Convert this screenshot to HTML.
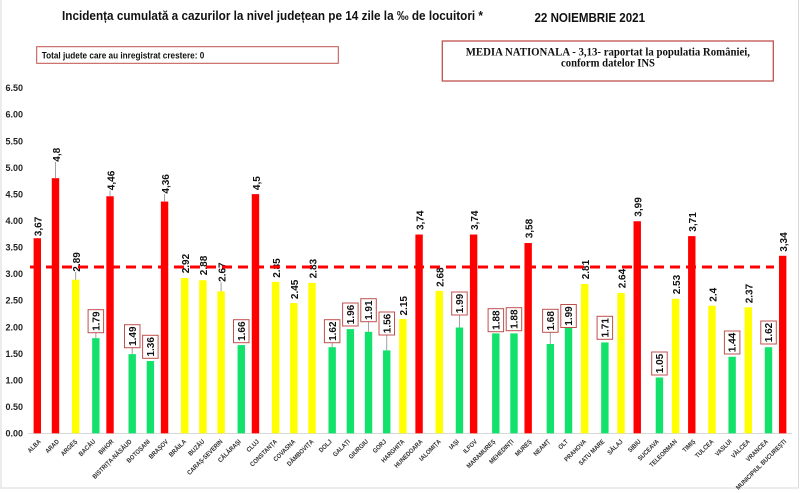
<!DOCTYPE html>
<html><head><meta charset="utf-8"><style>
html,body{margin:0;padding:0;background:#fff;}
svg{display:block;}
.yl{font-family:"Liberation Sans",sans-serif;font-size:9px;font-weight:bold;fill:#222;text-anchor:end;}
.v{font-family:"Liberation Sans",sans-serif;font-size:10px;font-weight:bold;fill:#111;}
.b{font-family:"Liberation Sans",sans-serif;font-size:10px;font-weight:bold;fill:#111;text-anchor:middle;}
.xl{font-family:"Liberation Sans",sans-serif;font-size:6.5px;font-weight:bold;fill:#333;text-anchor:end;}
.bx{fill:#fff;stroke:#c0504d;stroke-width:1;}
.ld{stroke:#a0a0a0;stroke-width:1;}
</style></head><body>
<svg width="800" height="493" viewBox="0 0 800 493" xmlns="http://www.w3.org/2000/svg">
<rect x="0" y="0" width="800" height="493" fill="#fff"/>
<rect x="1" y="-1" width="797.5" height="489" fill="none" stroke="#d9d9d9" stroke-width="1"/>

<text x="62" y="20" font-family="Liberation Sans, sans-serif" font-size="13" font-weight="bold" fill="#111" textLength="421" lengthAdjust="spacingAndGlyphs">Incidența cumulată a cazurilor la nivel județean pe 14 zile la ‰ de locuitori *</text>
<text x="534.5" y="22" font-family="Liberation Sans, sans-serif" font-size="13" font-weight="bold" fill="#111" textLength="110.5" lengthAdjust="spacingAndGlyphs">22 NOIEMBRIE 2021</text>

<rect x="36.7" y="46.7" width="301.6" height="16.6" fill="#fff" stroke="#c0504d" stroke-width="1"/>
<text x="41.7" y="58.3" font-family="Liberation Sans, sans-serif" font-size="9" font-weight="bold" fill="#111" textLength="162.6" lengthAdjust="spacingAndGlyphs">Total judete care au inregistrat crestere: 0</text>

<rect x="442.3" y="41" width="331" height="40" fill="#fff" stroke="#c0504d" stroke-width="1.3"/>
<text x="465.7" y="55.5" font-family="Liberation Serif, serif" font-size="11.5" font-weight="bold" fill="#111" textLength="284.3" lengthAdjust="spacingAndGlyphs">MEDIA NATIONALA - 3,13-  raportat la populatia  României,</text>
<text x="561" y="66.5" font-family="Liberation Serif, serif" font-size="11.5" font-weight="bold" fill="#111" textLength="94" lengthAdjust="spacingAndGlyphs">conform datelor INS</text>

<!-- y labels -->
<text class="yl" x="23" y="436.6">0.00</text>
<text class="yl" x="23" y="410">0.50</text>
<text class="yl" x="23" y="383.5">1.00</text>
<text class="yl" x="23" y="356.9">1.50</text>
<text class="yl" x="23" y="330.3">2.00</text>
<text class="yl" x="23" y="303.7">2.50</text>
<text class="yl" x="23" y="277.2">3.00</text>
<text class="yl" x="23" y="250.6">3.50</text>
<text class="yl" x="23" y="224">4.00</text>
<text class="yl" x="23" y="197.4">4.50</text>
<text class="yl" x="23" y="170.9">5.00</text>
<text class="yl" x="23" y="144.3">5.50</text>
<text class="yl" x="23" y="117.7">6.00</text>
<text class="yl" x="23" y="91.1">6.50</text>

<line x1="28" y1="433.5" x2="792" y2="433.5" stroke="#d9d9d9" stroke-width="1"/>

<!-- bars -->
<g>
<rect x="33.6" y="238.24" width="7.4" height="195.06" fill="#ff0000"/>
<rect x="51.78" y="178.18" width="7.4" height="255.12" fill="#ff0000"/>
<rect x="71.96" y="279.7" width="7.4" height="153.6" fill="#ffff00"/>
<rect x="92.14" y="338.16" width="7.4" height="95.14" fill="#12e26c"/>
<rect x="106.32" y="196.25" width="7.4" height="237.05" fill="#ff0000"/>
<rect x="128.5" y="354.11" width="7.4" height="79.19" fill="#12e26c"/>
<rect x="146.68" y="361.02" width="7.4" height="72.28" fill="#12e26c"/>
<rect x="160.86" y="201.57" width="7.4" height="231.73" fill="#ff0000"/>
<rect x="181.04" y="278.1" width="7.4" height="155.2" fill="#ffff00"/>
<rect x="199.22" y="280.23" width="7.4" height="153.07" fill="#ffff00"/>
<rect x="217.4" y="291.39" width="7.4" height="141.91" fill="#ffff00"/>
<rect x="237.58" y="345.07" width="7.4" height="88.23" fill="#12e26c"/>
<rect x="251.76" y="194.12" width="7.4" height="239.18" fill="#ff0000"/>
<rect x="271.94" y="281.82" width="7.4" height="151.48" fill="#ffff00"/>
<rect x="290.12" y="303.08" width="7.4" height="130.22" fill="#ffff00"/>
<rect x="308.3" y="282.89" width="7.4" height="150.41" fill="#ffff00"/>
<rect x="328.48" y="347.2" width="7.4" height="86.1" fill="#12e26c"/>
<rect x="346.66" y="329.13" width="7.4" height="104.17" fill="#12e26c"/>
<rect x="364.84" y="331.78" width="7.4" height="101.52" fill="#12e26c"/>
<rect x="383.02" y="350.39" width="7.4" height="82.91" fill="#12e26c"/>
<rect x="399.2" y="319.03" width="7.4" height="114.27" fill="#ffff00"/>
<rect x="415.38" y="234.52" width="7.4" height="198.78" fill="#ff0000"/>
<rect x="435.56" y="290.86" width="7.4" height="142.44" fill="#ffff00"/>
<rect x="455.74" y="327.53" width="7.4" height="105.77" fill="#12e26c"/>
<rect x="469.92" y="234.52" width="7.4" height="198.78" fill="#ff0000"/>
<rect x="492.1" y="333.38" width="7.4" height="99.92" fill="#12e26c"/>
<rect x="510.28" y="333.38" width="7.4" height="99.92" fill="#12e26c"/>
<rect x="524.46" y="243.02" width="7.4" height="190.28" fill="#ff0000"/>
<rect x="546.64" y="344.01" width="7.4" height="89.29" fill="#12e26c"/>
<rect x="564.82" y="327.53" width="7.4" height="105.77" fill="#12e26c"/>
<rect x="581.0" y="283.95" width="7.4" height="149.35" fill="#ffff00"/>
<rect x="601.18" y="342.41" width="7.4" height="90.89" fill="#12e26c"/>
<rect x="617.36" y="292.98" width="7.4" height="140.32" fill="#ffff00"/>
<rect x="633.54" y="221.23" width="7.4" height="212.07" fill="#ff0000"/>
<rect x="655.72" y="377.49" width="7.4" height="55.81" fill="#12e26c"/>
<rect x="671.9" y="298.83" width="7.4" height="134.47" fill="#ffff00"/>
<rect x="688.08" y="236.11" width="7.4" height="197.19" fill="#ff0000"/>
<rect x="708.26" y="305.74" width="7.4" height="127.56" fill="#ffff00"/>
<rect x="728.44" y="356.76" width="7.4" height="76.54" fill="#12e26c"/>
<rect x="744.62" y="307.33" width="7.4" height="125.97" fill="#ffff00"/>
<rect x="764.8" y="347.2" width="7.4" height="86.1" fill="#12e26c"/>
<rect x="778.98" y="255.78" width="7.4" height="177.52" fill="#ff0000"/>
</g>

<!-- leader lines -->
<line class="ld" x1="55.48" y1="162" x2="55.48" y2="178.2"/>
<line class="ld" x1="110.02" y1="190.5" x2="110.02" y2="196.3"/>
<line class="ld" x1="164.56" y1="194" x2="164.56" y2="201.6"/>
<line class="ld" x1="75.66" y1="272" x2="75.66" y2="279.7"/>
<line class="ld" x1="221.1" y1="282.2" x2="221.1" y2="291.4"/>
<line class="ld" x1="95.84" y1="332.7" x2="95.84" y2="338.2"/>
<line class="ld" x1="132.2" y1="347.7" x2="132.2" y2="354.1"/>
<line class="ld" x1="332.18" y1="342.7" x2="332.18" y2="347.2"/>
<line class="ld" x1="368.54" y1="321.7" x2="368.54" y2="331.8"/>
<line class="ld" x1="386.72" y1="335" x2="386.72" y2="350.4"/>
<line class="ld" x1="459.44" y1="315" x2="459.44" y2="327.5"/>
<line class="ld" x1="550.34" y1="332.3" x2="550.34" y2="344"/>

<!-- value labels (red / yellow) -->
<text class="v" transform="translate(41.6,236.2) rotate(-90)">3,67</text>
<text class="v" transform="translate(59.8,161.7) rotate(-90)">4,8</text>
<text class="v" transform="translate(80.0,271.7) rotate(-90)">2.89</text>
<text class="v" transform="translate(114.3,190.2) rotate(-90)">4,46</text>
<text class="v" transform="translate(168.9,193.6) rotate(-90)">4,36</text>
<text class="v" transform="translate(189.0,273.3) rotate(-90)">2.92</text>
<text class="v" transform="translate(207.2,275.2) rotate(-90)">2.88</text>
<text class="v" transform="translate(225.4,281.9) rotate(-90)">2.67</text>
<text class="v" transform="translate(259.8,190.1) rotate(-90)">4,5</text>
<text class="v" transform="translate(279.9,277.8) rotate(-90)">2.85</text>
<text class="v" transform="translate(298.1,299.1) rotate(-90)">2.45</text>
<text class="v" transform="translate(316.3,278.4) rotate(-90)">2.83</text>
<text class="v" transform="translate(407.2,315.5) rotate(-90)">2.15</text>
<text class="v" transform="translate(423.4,230) rotate(-90)">3,74</text>
<text class="v" transform="translate(443.6,286.9) rotate(-90)">2.68</text>
<text class="v" transform="translate(477.9,230) rotate(-90)">3,74</text>
<text class="v" transform="translate(532.5,238.3) rotate(-90)">3,58</text>
<text class="v" transform="translate(589.0,279.3) rotate(-90)">2.81</text>
<text class="v" transform="translate(625.4,288.3) rotate(-90)">2.64</text>
<text class="v" transform="translate(641.5,216.7) rotate(-90)">3,99</text>
<text class="v" transform="translate(679.9,294.3) rotate(-90)">2.53</text>
<text class="v" transform="translate(696.1,231.7) rotate(-90)">3,71</text>
<text class="v" transform="translate(716.3,301.7) rotate(-90)">2.4</text>
<text class="v" transform="translate(752.6,303.3) rotate(-90)">2.37</text>
<text class="v" transform="translate(787.0,251.8) rotate(-90)">3,34</text>

<!-- boxed labels (green) -->
<rect class="bx" x="88.1" y="309.7" width="15.5" height="23"/><text class="b" transform="translate(99.4,321.2) rotate(-90)">1.79</text>
<rect class="bx" x="124.5" y="324.7" width="15.5" height="23"/><text class="b" transform="translate(135.8,336.2) rotate(-90)">1.49</text>
<rect class="bx" x="142.6" y="335.3" width="15.5" height="23"/><text class="b" transform="translate(154,346.8) rotate(-90)">1.36</text>
<rect class="bx" x="233.5" y="319.7" width="15.5" height="23"/><text class="b" transform="translate(244.9,331.2) rotate(-90)">1.66</text>
<rect class="bx" x="324.4" y="319.7" width="15.5" height="23"/><text class="b" transform="translate(335.8,331.2) rotate(-90)">1.62</text>
<rect class="bx" x="342.6" y="303" width="15.5" height="23"/><text class="b" transform="translate(354,314.5) rotate(-90)">1.96</text>
<rect class="bx" x="360.8" y="298.7" width="15.5" height="23"/><text class="b" transform="translate(372.1,310.2) rotate(-90)">1.91</text>
<rect class="bx" x="379" y="312" width="15.5" height="23"/><text class="b" transform="translate(390.3,323.5) rotate(-90)">1.56</text>
<rect class="bx" x="451.7" y="292" width="15.5" height="23"/><text class="b" transform="translate(463,303.5) rotate(-90)">1.99</text>
<rect class="bx" x="488.1" y="308.7" width="15.5" height="23"/><text class="b" transform="translate(499.4,320.2) rotate(-90)">1.88</text>
<rect class="bx" x="506.2" y="307.7" width="15.5" height="23"/><text class="b" transform="translate(517.6,319.2) rotate(-90)">1.88</text>
<rect class="bx" x="542.6" y="309.3" width="15.5" height="23"/><text class="b" transform="translate(553.9,320.8) rotate(-90)">1.68</text>
<rect class="bx" x="560.8" y="304.5" width="15.5" height="23"/><text class="b" transform="translate(572.1,316) rotate(-90)">1.99</text>
<rect class="bx" x="597.1" y="316.3" width="15.5" height="23"/><text class="b" transform="translate(608.5,327.8) rotate(-90)">1.71</text>
<rect class="bx" x="651.7" y="352" width="15.5" height="23"/><text class="b" transform="translate(663,363.5) rotate(-90)">1.05</text>
<rect class="bx" x="724.4" y="331" width="15.5" height="23"/><text class="b" transform="translate(735.7,342.5) rotate(-90)">1.44</text>
<rect class="bx" x="760.8" y="321" width="15.5" height="23"/><text class="b" transform="translate(772.1,332.5) rotate(-90)">1.62</text>

<!-- national average dashed line -->
<line x1="30" y1="267" x2="774" y2="267" stroke="#ff0000" stroke-width="3" stroke-dasharray="10 6"/>

<!-- x labels -->
<text class="xl" transform="translate(41.3,442) rotate(-45) scale(0.88,1)">ALBA</text>
<text class="xl" transform="translate(59.5,442) rotate(-45) scale(0.88,1)">ARAD</text>
<text class="xl" transform="translate(77.7,442) rotate(-45) scale(0.88,1)">ARGEȘ</text>
<text class="xl" transform="translate(95.8,442) rotate(-45) scale(0.88,1)">BACĂU</text>
<text class="xl" transform="translate(114.0,442) rotate(-45) scale(0.88,1)">BIHOR</text>
<text class="xl" transform="translate(132.2,442) rotate(-45) scale(0.88,1)">BISTRIȚA-NĂSĂUD</text>
<text class="xl" transform="translate(150.4,442) rotate(-45) scale(0.88,1)">BOTOȘANI</text>
<text class="xl" transform="translate(168.6,442) rotate(-45) scale(0.88,1)">BRAȘOV</text>
<text class="xl" transform="translate(186.7,442) rotate(-45) scale(0.88,1)">BRĂILA</text>
<text class="xl" transform="translate(204.9,442) rotate(-45) scale(0.88,1)">BUZĂU</text>
<text class="xl" transform="translate(223.1,442) rotate(-45) scale(0.88,1)">CARAȘ-SEVERIN</text>
<text class="xl" transform="translate(241.3,442) rotate(-45) scale(0.88,1)">CĂLĂRAȘI</text>
<text class="xl" transform="translate(259.5,442) rotate(-45) scale(0.88,1)">CLUJ</text>
<text class="xl" transform="translate(277.6,442) rotate(-45) scale(0.88,1)">CONSTANȚA</text>
<text class="xl" transform="translate(295.8,442) rotate(-45) scale(0.88,1)">COVASNA</text>
<text class="xl" transform="translate(314.0,442) rotate(-45) scale(0.88,1)">DÂMBOVIȚA</text>
<text class="xl" transform="translate(332.2,442) rotate(-45) scale(0.88,1)">DOLJ</text>
<text class="xl" transform="translate(350.4,442) rotate(-45) scale(0.88,1)">GALAȚI</text>
<text class="xl" transform="translate(368.5,442) rotate(-45) scale(0.88,1)">GIURGIU</text>
<text class="xl" transform="translate(386.7,442) rotate(-45) scale(0.88,1)">GORJ</text>
<text class="xl" transform="translate(404.9,442) rotate(-45) scale(0.88,1)">HARGHITA</text>
<text class="xl" transform="translate(423.1,442) rotate(-45) scale(0.88,1)">HUNEDOARA</text>
<text class="xl" transform="translate(441.3,442) rotate(-45) scale(0.88,1)">IALOMIȚA</text>
<text class="xl" transform="translate(459.4,442) rotate(-45) scale(0.88,1)">IAȘI</text>
<text class="xl" transform="translate(477.6,442) rotate(-45) scale(0.88,1)">ILFOV</text>
<text class="xl" transform="translate(495.8,442) rotate(-45) scale(0.88,1)">MARAMUREȘ</text>
<text class="xl" transform="translate(514.0,442) rotate(-45) scale(0.88,1)">MEHEDINȚI</text>
<text class="xl" transform="translate(532.2,442) rotate(-45) scale(0.88,1)">MUREȘ</text>
<text class="xl" transform="translate(550.3,442) rotate(-45) scale(0.88,1)">NEAMȚ</text>
<text class="xl" transform="translate(568.5,442) rotate(-45) scale(0.88,1)">OLT</text>
<text class="xl" transform="translate(586.7,442) rotate(-45) scale(0.88,1)">PRAHOVA</text>
<text class="xl" transform="translate(604.9,442) rotate(-45) scale(0.88,1)">SATU MARE</text>
<text class="xl" transform="translate(623.1,442) rotate(-45) scale(0.88,1)">SĂLAJ</text>
<text class="xl" transform="translate(641.2,442) rotate(-45) scale(0.88,1)">SIBIU</text>
<text class="xl" transform="translate(659.4,442) rotate(-45) scale(0.88,1)">SUCEAVA</text>
<text class="xl" transform="translate(677.6,442) rotate(-45) scale(0.88,1)">TELEORMAN</text>
<text class="xl" transform="translate(695.8,442) rotate(-45) scale(0.88,1)">TIMIȘ</text>
<text class="xl" transform="translate(714.0,442) rotate(-45) scale(0.88,1)">TULCEA</text>
<text class="xl" transform="translate(732.1,442) rotate(-45) scale(0.88,1)">VASLUI</text>
<text class="xl" transform="translate(750.3,442) rotate(-45) scale(0.88,1)">VÂLCEA</text>
<text class="xl" transform="translate(768.5,442) rotate(-45) scale(0.88,1)">VRANCEA</text>
<text class="xl" transform="translate(786.7,442) rotate(-45) scale(0.88,1)">MUNICIPIUL BUCUREȘTI</text>
</svg>
</body></html>
